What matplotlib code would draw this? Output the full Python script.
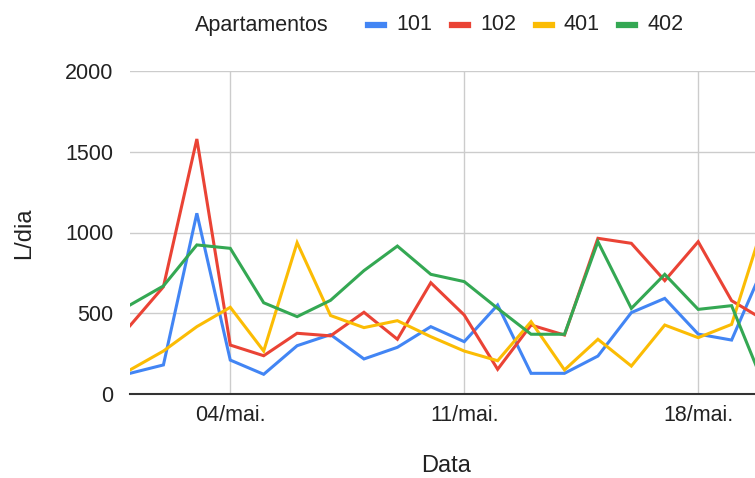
import pandas as pd
import matplotlib.pyplot as plt
from matplotlib.lines import Line2D

plt.rcParams["font.family"] = ["Liberation Sans", "DejaVu Sans"]

dates = pd.date_range("2021-05-01", "2021-05-20", freq="D")
apt_101 = [128, 180, 1119, 210, 122, 299, 368, 217, 289, 417, 324, 551, 128, 128, 235, 504, 592, 371, 334, 810]
apt_102 = [423, 664, 1579, 303, 237, 376, 360, 506, 339, 689, 489, 153, 427, 365, 964, 933, 702, 943, 578, 455]
apt_401 = [149, 266, 417, 537, 266, 937, 486, 411, 454, 355, 266, 206, 448, 149, 339, 173, 427, 349, 431, 1085]
apt_402 = [551, 669, 923, 902, 565, 479, 580, 764, 916, 741, 696, 530, 370, 370, 943, 530, 741, 524, 547, 40]
tick_dates = pd.to_datetime(["2021-05-04", "2021-05-11", "2021-05-18"])
tick_labels = ["04/mai.", "11/mai.", "18/mai."]
y_ticks = [0, 500, 1000, 1500, 2000]

series = [("101", apt_101, "#4285F4"), ("102", apt_102, "#EA4335"),
          ("401", apt_401, "#FBBC04"), ("402", apt_402, "#34A853")]

fig = plt.figure(figsize=(7.55, 4.78), dpi=100)
ax = fig.add_axes([130 / 755, 84 / 478, 625 / 755, 323 / 478])

for name, vals, color in series:
    ax.plot(dates, vals, color=color, linewidth=2.2, solid_joinstyle="miter", clip_on=True)

ax.set_ylim(0, 2000)
ax.set_xlim(dates[0], dates[0] + pd.Timedelta(days=18.7))
ax.set_yticks(y_ticks)
ax.set_xticks(tick_dates)
ax.set_xticklabels(tick_labels)
ax.tick_params(length=0, labelsize=15.5, colors="#222222", pad=8)
ax.tick_params(axis="y", pad=12)
ax.grid(True, color="#cccccc", linewidth=1)
ax.set_axisbelow(True)
for s in ["top", "right", "left"]:
    ax.spines[s].set_visible(False)
ax.spines["bottom"].set_color("#333333")
ax.spines["bottom"].set_linewidth(1.5)

fig.text(446 / 755, 1 - 466 / 478, "Data", ha="center", va="center", fontsize=17, color="#222222")
fig.text(24 / 755, 1 - 233 / 478, "L/dia", ha="center", va="center", rotation=90, fontsize=17, color="#222222")

# legend along the top
fig.text(195 / 755, 1 - 25 / 478, "Apartamentos", ha="left", va="center", fontsize=15.5, color="#222222")
handle_x = [368, 452, 536, 619]
for (name, vals, color), hx in zip(series, handle_x):
    fig.add_artist(Line2D([hx / 755, (hx + 16) / 755], [1 - 25 / 478] * 2,
                          color=color, linewidth=4.5, transform=fig.transFigure))
    fig.text((hx + 28) / 755, 1 - 25 / 478, name, ha="left", va="center", fontsize=15.5, color="#222222")

plt.savefig("out.png", dpi=100)
print("Saved out.png")
